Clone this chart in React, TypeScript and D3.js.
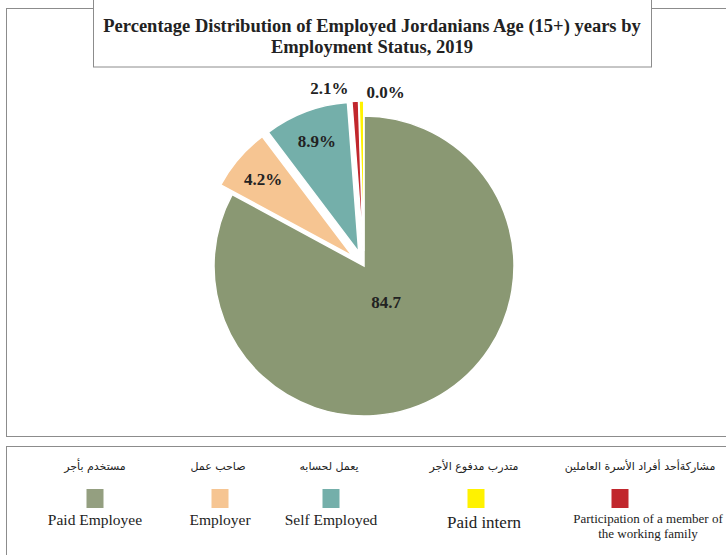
import React, { useRef, useEffect } from "react";
import * as d3 from "d3";

// slice sizes as drawn (angles), and the printed labels
const categories = ["Paid Employee", "Employer", "Self Employed", "Participation", "Paid intern"];
const sliceValues = [82.9, 6.8, 9.1, 0.7, 0.5];
const sliceLabels = ["84.7", "4.2%", "8.9%", "2.1%", "0.0%"];
const sliceColors = ["#8a9873", "#f6c592", "#74afaa", "#c1272d", "#fff200"];

const legendEnglish = [
  ["Paid Employee"],
  ["Employer"],
  ["Self Employed"],
  ["Paid intern"],
  ["Participation of a member of", "the working family"],
];
const legendArabic = [
  "مستخدم بأجر",
  "صاحب عمل",
  "يعمل لحسابه",
  "متدرب مدفوع الأجر",
  "مشاركةأحد أفراد الأسرة العاملين",
];
const legendColors = ["#949f80", "#f6c592", "#74afaa", "#fff200", "#c1272d"];

const CFG = {
  width: 726,
  height: 555,
  cx: 364,
  cy: 266,
  radius: 150,
  explode: [0, 15, 15, 15, 15],
  // polar placement of the value labels, relative to each slice's mid angle
  labelR: [43, 118, 118, 166, 160],
  labelAngleShift: [0, 0, 0, -8, 8],
  textX: [95, 220, 331, 484, 648],
  swatchX: [95, 220, 331, 476, 620],
  arabicX: [95, 218, 329, 474, 640],
  serif: "'Liberation Serif', 'Times New Roman', serif",
  arabic: "'DejaVu Sans', sans-serif",
  border: "#8c8c8c",
};

const App = () => {
  const ref = useRef<SVGSVGElement | null>(null);

  useEffect(() => {
    const svg = d3.select(ref.current);
    svg.selectAll("*").remove();

    // outer boxes
    svg.append("rect").attr("x", 6.5).attr("y", 8.5).attr("width", 740).attr("height", 428)
      .attr("fill", "#fff").attr("stroke", CFG.border);
    svg.append("rect").attr("x", 6.5).attr("y", 446.5).attr("width", 740).attr("height", 140)
      .attr("fill", "#fff").attr("stroke", CFG.border);

    // title box
    svg.append("rect").attr("x", 93.5).attr("y", -20).attr("width", 558).attr("height", 87)
      .attr("fill", "#fff").attr("stroke", CFG.border);
    const title = svg.append("text").attr("text-anchor", "middle")
      .attr("font-family", CFG.serif).attr("font-weight", "bold").attr("font-size", 18.5)
      .attr("fill", "#222");
    title.append("tspan").attr("x", 372).attr("y", 32)
      .text("Percentage Distribution of Employed Jordanians Age (15+) years by");
    title.append("tspan").attr("x", 372).attr("y", 53).text("Employment Status, 2019");

    // pie
    const pie = d3.pie<number>().sort(null).value((d) => d);
    const arcs = pie(sliceValues);
    const arc = d3.arc<d3.PieArcDatum<number>>().innerRadius(0).outerRadius(CFG.radius);
    const g = svg.append("g").attr("transform", `translate(${CFG.cx},${CFG.cy})`);

    g.selectAll("path.slice")
      .data(arcs)
      .join("path")
      .attr("class", "slice")
      .attr("d", arc)
      .attr("fill", (_, i) => sliceColors[i])
      .attr("stroke", "#fff")
      .attr("stroke-width", 1.5)
      .attr("transform", (d, i) => {
        const mid = (d.startAngle + d.endAngle) / 2;
        const e = CFG.explode[i];
        return `translate(${e * Math.sin(mid)},${-e * Math.cos(mid)})`;
      });

    g.selectAll("text.val")
      .data(arcs)
      .join("text")
      .attr("class", "val")
      .attr("transform", (d, i) => {
        const mid = (d.startAngle + d.endAngle) / 2 + (CFG.labelAngleShift[i] * Math.PI) / 180;
        const r = CFG.labelR[i] + CFG.explode[i];
        return `translate(${r * Math.sin(mid)},${-r * Math.cos(mid)})`;
      })
      .attr("text-anchor", "middle")
      .attr("dominant-baseline", "central")
      .attr("font-family", CFG.serif)
      .attr("font-weight", "bold")
      .attr("font-size", 17)
      .attr("fill", "#222")
      .text((_, i) => sliceLabels[i]);

    // legend
    const leg = svg.selectAll("g.leg")
      .data(legendEnglish)
      .join("g")
      .attr("class", "leg");

    leg.append("text")
      .attr("x", (_, i) => CFG.arabicX[i])
      .attr("y", 470)
      .attr("text-anchor", "middle")
      .attr("font-family", CFG.arabic)
      .attr("font-size", 11)
      .attr("fill", "#222")
      .text((_, i) => legendArabic[i]);

    leg.append("rect")
      .attr("x", (_, i) => CFG.swatchX[i] - 8.5)
      .attr("y", 489)
      .attr("width", 17)
      .attr("height", 19)
      .attr("fill", (_, i) => legendColors[i]);

    leg.each(function (lines, i) {
      const t = d3.select(this).append("text")
        .attr("text-anchor", "middle")
        .attr("font-family", CFG.serif)
        .attr("font-size", i === 4 ? 13 : i === 3 ? 17 : 15.5)
        .attr("fill", "#222");
      lines.forEach((line, j) => {
        t.append("tspan")
          .attr("x", CFG.textX[i])
          .attr("y", (i === 3 ? 528 : i === 4 ? 523 : 525) + j * 15)
          .text(line);
      });
    });
  }, []);

  return (
    <svg
      ref={ref}
      width={CFG.width}
      height={CFG.height}
      style={{ position: "absolute", left: 0, top: 0, background: "#fff" }}
    />
  );
};

export default App;
